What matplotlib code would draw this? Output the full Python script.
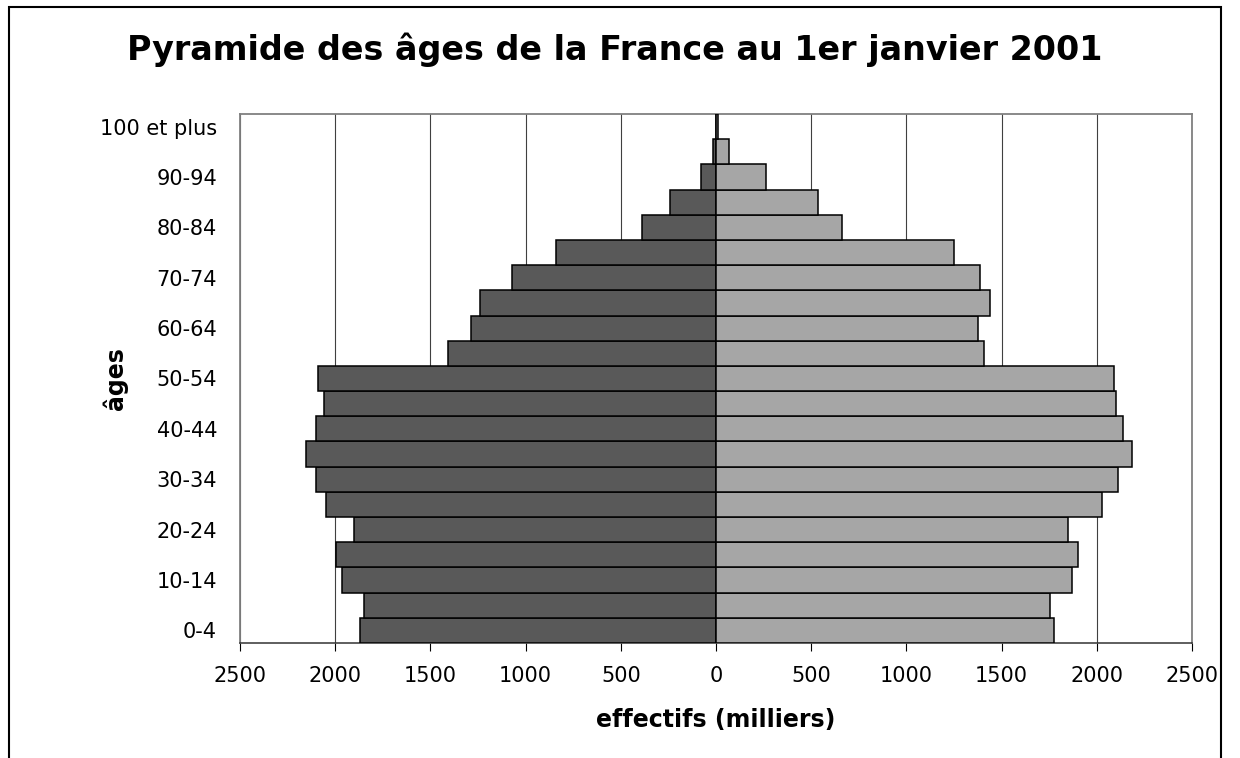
import matplotlib

matplotlib.use("Agg")
import matplotlib.pyplot as plt
from matplotlib.patches import Rectangle

# effectifs en milliers, du groupe 0-4 au groupe 100 et plus
AGES = ["0-4", "5-9", "10-14", "15-19", "20-24", "25-29", "30-34", "35-39",
        "40-44", "45-49", "50-54", "55-59", "60-64", "65-69", "70-74",
        "75-79", "80-84", "85-89", "90-94", "95-99", "100 et plus"]
HOMMES = [1872, 1848, 1966, 1996, 1902, 2050, 2101, 2155, 2101, 2060, 2088,
          1409, 1285, 1242, 1070, 839, 389, 240, 80, 16, 2]
FEMMES = [1774, 1754, 1868, 1900, 1847, 2028, 2109, 2183, 2139, 2100, 2090,
          1406, 1374, 1438, 1387, 1250, 663, 537, 263, 66, 9]
XTICKS = [-2500, -2000, -1500, -1000, -500, 0, 500, 1000, 1500, 2000, 2500]

W, H = 1240, 758
fig = plt.figure(figsize=(W / 100, H / 100), dpi=100)
ax = fig.add_axes([240 / W, 1 - 643 / H, (1192 - 240) / W, (643 - 114) / H])

pos = list(range(len(AGES)))
ax.barh(pos, [-h for h in HOMMES], height=1.0, color="#595959",
        edgecolor="black", linewidth=1.1, zorder=3)
ax.barh(pos, FEMMES, height=1.0, color="#a6a6a6",
        edgecolor="black", linewidth=1.1, zorder=3)

ax.set_xlim(-2500, 2500)
ax.set_ylim(-0.5, len(AGES) - 0.5)
ax.set_xticks(XTICKS)
ax.set_xticklabels([str(abs(v)) for v in XTICKS], fontsize=15)
ax.set_yticks(pos[::2])
ax.set_yticklabels(AGES[::2], fontsize=15)
ax.tick_params(axis="y", length=0, pad=16.5)
ax.tick_params(axis="x", direction="out", length=5.8, width=0.8, pad=10.5)

ax.xaxis.grid(True, color="#404040", lw=0.8)
ax.set_axisbelow(True)
for side in ("top", "left", "right"):
    ax.spines[side].set_color("#808080")
    ax.spines[side].set_linewidth(1.3)
ax.spines["bottom"].set_color("#333333")
ax.spines["bottom"].set_linewidth(1.1)

ax.set_xlabel("effectifs (milliers)", fontsize=17, fontweight="bold")
ax.xaxis.set_label_coords(0.5, -(720 - 643) / 529)
ax.xaxis.label.set_va("center")
ax.set_ylabel("âges", fontsize=17, fontweight="bold")
ax.yaxis.set_label_coords((115 - 240) / 952, 0.5)
ax.yaxis.label.set_va("center")

fig.text(615 / W, 1 - 50 / H, "Pyramide des âges de la France au 1er janvier 2001",
         ha="center", va="center", fontsize=24, fontweight="bold")

# cadre du graphique
fig.add_artist(Rectangle((9 / W, -0.1), (1221 - 9) / W, 1.1 - 7 / H,
                         transform=fig.transFigure, fill=False,
                         ec="black", lw=1.5))

fig.savefig("out.png", dpi=100)
